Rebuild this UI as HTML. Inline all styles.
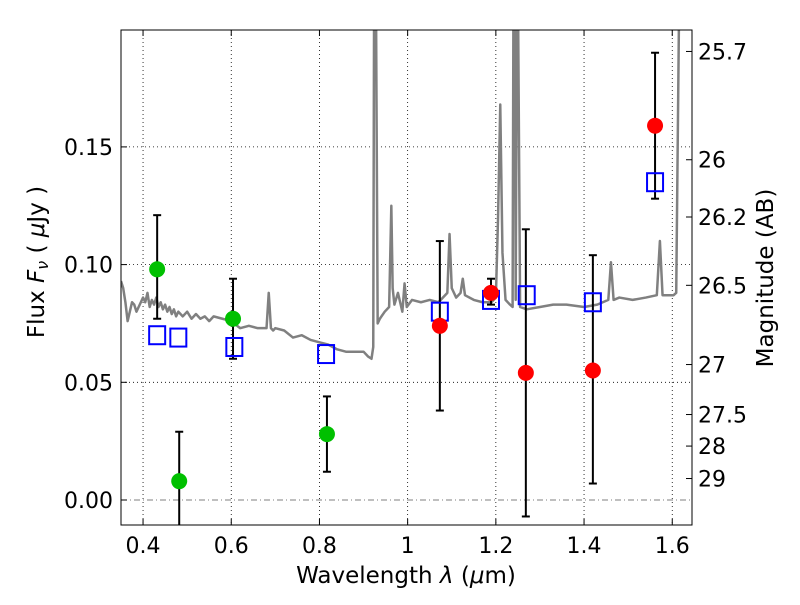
<!DOCTYPE html>
<html><head><meta charset="utf-8"><style>
body{margin:0;background:#fff}
svg text{font-family:"DejaVu Sans","Liberation Sans",sans-serif;fill:#000}
</style></head><body>
<svg id="chart" width="800" height="600" xmlns="http://www.w3.org/2000/svg">
<defs><clipPath id="clip"><rect x="121" y="30" width="571" height="495"/></clipPath></defs>
<g id="grid"></g>
<g id="plot" clip-path="url(#clip)"></g>
<rect x="121" y="30" width="571" height="495" fill="none" stroke="#000" stroke-width="1"/>
<g id="axes"></g>
<text x="406" y="583" font-size="23" text-anchor="middle">Wavelength  <tspan font-style="italic">λ</tspan> (<tspan font-style="italic">μ</tspan>m)</text>
<text transform="translate(44,262) rotate(-90)" font-size="23" text-anchor="middle">Flux  <tspan font-style="italic">F</tspan><tspan font-style="italic" font-size="16" dy="4">ν</tspan><tspan dy="-4">  (  </tspan><tspan font-style="italic">μ</tspan>Jy )</text>
<text transform="translate(773,278) rotate(-90)" font-size="23" text-anchor="middle">Magnitude (AB)</text>
</svg>
<script>
const xTicks=[0.4,0.6,0.8,1.0,1.2,1.4,1.6];
const xTickLabels=['0.4','0.6','0.8','1','1.2','1.4','1.6'];
const yTicks=[0,0.05,0.1,0.15];
const yTickLabels=['0.00','0.05','0.10','0.15'];
const magTicks=[25.7,26,26.2,26.5,27,27.5,28,29];
const specWave=[0.35,0.355,0.36,0.365,0.37,0.375,0.38,0.385,0.39,0.395,0.40,0.405,0.41,0.415,0.42,0.425,0.43,0.435,0.44,0.445,0.45,0.455,0.46,0.465,0.47,0.475,0.48,0.49,0.50,0.51,0.52,0.53,0.54,0.55,0.56,0.58,0.60,0.62,0.64,0.66,0.68,0.685,0.69,0.695,0.70,0.72,0.74,0.76,0.78,0.80,0.82,0.84,0.86,0.88,0.90,0.91,0.918,0.922,0.924,0.928,0.932,0.937,0.948,0.958,0.963,0.966,0.970,0.978,0.988,0.993,0.998,1.01,1.03,1.05,1.07,1.09,1.095,1.10,1.11,1.12,1.125,1.13,1.15,1.17,1.19,1.20,1.205,1.21,1.215,1.222,1.232,1.238,1.240,1.243,1.245,1.248,1.250,1.255,1.27,1.30,1.33,1.36,1.40,1.43,1.455,1.461,1.467,1.48,1.51,1.54,1.565,1.572,1.578,1.59,1.603,1.609,1.615,1.645];
const specFlux=[0.093,0.090,0.084,0.076,0.080,0.084,0.083,0.080,0.082,0.084,0.086,0.084,0.088,0.082,0.085,0.083,0.086,0.082,0.084,0.081,0.083,0.080,0.082,0.079,0.081,0.078,0.080,0.078,0.080,0.077,0.079,0.077,0.078,0.076,0.078,0.077,0.076,0.073,0.074,0.073,0.073,0.088,0.073,0.072,0.073,0.072,0.069,0.070,0.068,0.067,0.066,0.064,0.063,0.063,0.063,0.061,0.060,0.065,0.22,0.22,0.075,0.077,0.080,0.082,0.125,0.090,0.083,0.088,0.080,0.092,0.082,0.085,0.084,0.085,0.084,0.088,0.113,0.090,0.086,0.088,0.094,0.087,0.085,0.084,0.084,0.086,0.120,0.168,0.105,0.085,0.083,0.082,0.22,0.22,0.085,0.22,0.22,0.082,0.081,0.082,0.083,0.083,0.082,0.083,0.085,0.101,0.085,0.086,0.085,0.086,0.087,0.110,0.087,0.087,0.087,0.088,0.20,0.22];
const greenWave=[0.432,0.482,0.604,0.817];
const greenFlux=[0.098,0.008,0.077,0.028];
const greenHi=[0.121,0.029,0.094,0.044];
const greenLo=[0.077,-0.02,0.060,0.012];
const redWave=[1.073,1.189,1.268,1.420,1.561];
const redFlux=[0.074,0.088,0.054,0.055,0.159];
const redHi=[0.110,0.094,0.115,0.104,0.190];
const redLo=[0.038,0.083,-0.007,0.007,0.128];
const modelWave=[0.432,0.480,0.607,0.815,1.073,1.189,1.270,1.420,1.561];
const modelFlux=[0.070,0.069,0.065,0.062,0.080,0.085,0.087,0.084,0.135];

const X=v=>121+(v-0.35)*441/1.0;
const Y=v=>500-v*2354;
const NS='http://www.w3.org/2000/svg';
function mk(parent,tag,attrs){const e=document.createElementNS(NS,tag);for(const k in attrs)e.setAttribute(k,attrs[k]);parent.appendChild(e);return e;}
const grid=document.getElementById('grid'),plot=document.getElementById('plot'),axes=document.getElementById('axes');
xTicks.forEach((t,i)=>{
  const g=mk(grid,'line',{x1:X(t),x2:X(t),y1:30,y2:525,stroke:'#000','stroke-dasharray':'1,3','stroke-width':0.8});
  
  
  mk(axes,'line',{x1:X(t),x2:X(t),y1:525,y2:519,stroke:'#000'});
  mk(axes,'line',{x1:X(t),x2:X(t),y1:30,y2:36,stroke:'#000'});
  const tx=mk(axes,'text',{x:X(t),y:553,'font-size':22,'text-anchor':'middle'});tx.textContent=xTickLabels[i];
  
  
});
yTicks.forEach((t,i)=>{
  if(t>0){const g=mk(grid,'line',{x1:121,x2:692,y1:Y(t),y2:Y(t),stroke:'#000','stroke-dasharray':'1,3','stroke-width':0.8});
  
  }
  mk(axes,'line',{x1:121,x2:127,y1:Y(t),y2:Y(t),stroke:'#000'});
  const tx=mk(axes,'text',{x:113,y:Y(t)+8,'font-size':22,'text-anchor':'end'});tx.textContent=yTickLabels[i];
  
  
});
const zl=mk(grid,'line',{x1:121,x2:692,y1:Y(0),y2:Y(0),stroke:'#555','stroke-dasharray':'6,3,1,3','stroke-width':0.8});


magTicks.forEach(m=>{
  const f=Math.pow(10,-0.4*(m-23.9));
  mk(axes,'line',{x1:692,x2:686,y1:Y(f),y2:Y(f),stroke:'#000'});
  const tx=mk(axes,'text',{x:698,y:Y(f)+8,'font-size':22});tx.textContent=String(m);
  
  
});
const sp=mk(plot,'polyline',{points:specWave.map((w,i)=>X(w)+','+Y(specFlux[i])).join(' '),fill:'none',stroke:'#808080','stroke-width':2.5,'stroke-linejoin':'round'});


function err(w,lo,hi){
  mk(plot,'line',{x1:X(w),x2:X(w),y1:Y(lo),y2:Y(hi),stroke:'#000','stroke-width':2});
  mk(plot,'line',{x1:X(w)-4,x2:X(w)+4,y1:Y(lo),y2:Y(lo),stroke:'#000','stroke-width':2});
  mk(plot,'line',{x1:X(w)-4,x2:X(w)+4,y1:Y(hi),y2:Y(hi),stroke:'#000','stroke-width':2});
}
greenWave.forEach((w,i)=>err(w,greenLo[i],greenHi[i]));
redWave.forEach((w,i)=>err(w,redLo[i],redHi[i]));
modelWave.forEach((w,i)=>{
  const r=mk(plot,'rect',{x:X(w)-8,y:Y(modelFlux[i])-9,width:16,height:18,fill:'none',stroke:'#0000ff','stroke-width':2});
  
  
});
greenWave.forEach((w,i)=>{
  const c=mk(plot,'circle',{cx:X(w),cy:Y(greenFlux[i]),r:8,fill:'#00c000'});
  
  
});
redWave.forEach((w,i)=>{
  const c=mk(plot,'circle',{cx:X(w),cy:Y(redFlux[i]),r:8,fill:'#ff0000'});
  
  
});
</script>
</body></html>
